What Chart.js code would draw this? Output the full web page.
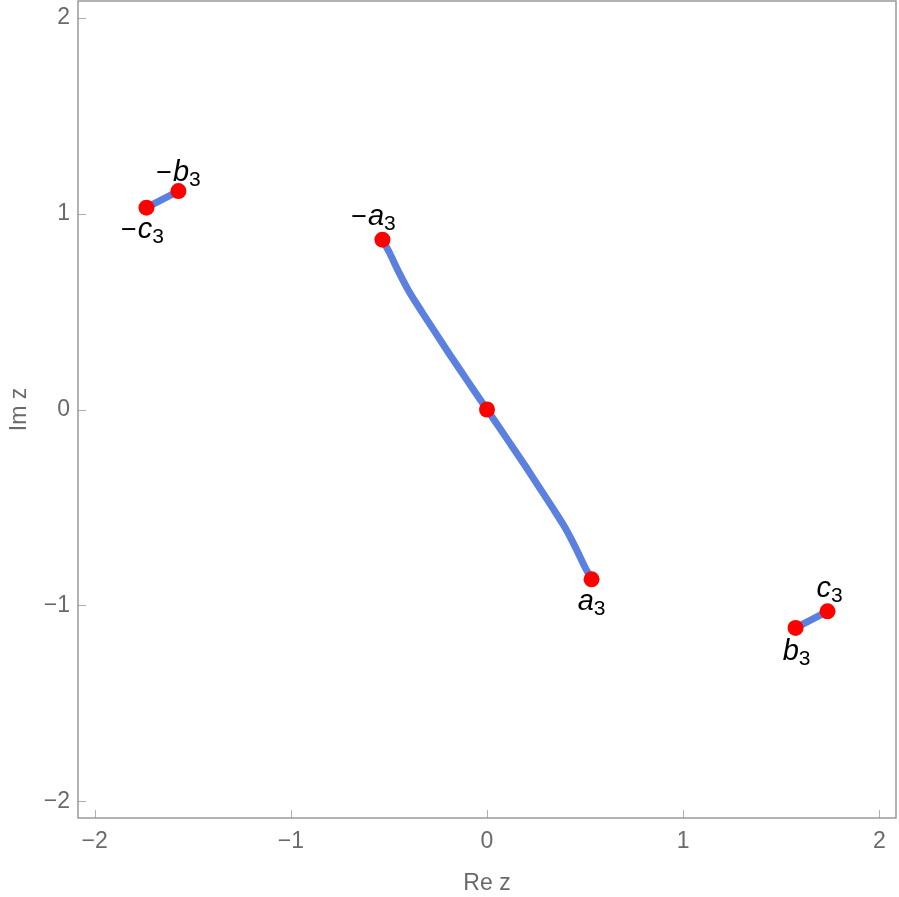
<!DOCTYPE html>
<html><head><meta charset="utf-8">
<script src="https://cdn.jsdelivr.net/npm/chart.js@4.4.1/dist/chart.umd.min.js"></script>
<style>html,body{margin:0;padding:0;background:#fff}canvas{display:block}</style>
</head><body><canvas id="c" width="899" height="897"></canvas>
<script>
// ---- data ----
const curveRe = [-0.533,-0.497,-0.449,-0.396,-0.333,-0.268,-0.203,-0.136,-0.068,0,0.068,0.136,0.203,0.268,0.333,0.396,0.449,0.497,0.533];
const curveIm = [0.867,0.8,0.7,0.6,0.5,0.4,0.3,0.2,0.1,0,-0.1,-0.2,-0.3,-0.4,-0.5,-0.6,-0.7,-0.8,-0.867];
const segLeftRe = [-1.736,-1.573];
const segLeftIm = [1.030,1.115];
const segRightRe = [1.573,1.736];
const segRightIm = [-1.115,-1.030];
const pointRe = [-0.533,0.533,-1.573,1.573,-1.736,1.736,0];
const pointIm = [0.867,-0.867,1.115,-1.115,1.030,-1.030,0];
const pointLabels = ['−a','a','−b','b','−c','c',''];
const labelSub = '3';
const tickValues = [-2,-1,0,1,2];
const tickLabels = ['−2','−1','0','1','2'];
const xTitle = 'Re z';
const yTitle = 'Im z';

// ---- styling ----
const BLUE = '#5b80e0';
const RED = '#ff0000';
const GRAY = '#6a6a6a';
const FRAME = '#8a8a8a';
const LABEL_PLACEMENT = [[-9,-15],[0,31],[0,-10],[1,32],[-4,30],[2,-14],null];

const toXY = (xs, ys) => xs.map((x,i)=>({x, y: ys[i]}));

const framePlugin = {
  id: 'frame',
  afterDraw(chart) {
    const {ctx, chartArea: a, scales} = chart;
    ctx.save();
    ctx.strokeStyle = '#b0b0b0';
    ctx.lineWidth = 1;
    tickValues.forEach(v => {
      const px = Math.round(scales.x.getPixelForValue(v)) + 0.5;
      ctx.beginPath(); ctx.moveTo(px, a.bottom); ctx.lineTo(px, a.bottom - 8); ctx.stroke();
      const py = Math.round(scales.y.getPixelForValue(v)) + 0.5;
      ctx.beginPath(); ctx.moveTo(a.left, py); ctx.lineTo(a.left + 8, py); ctx.stroke();
    });
    ctx.strokeStyle = FRAME;
    ctx.lineWidth = 1.3;
    ctx.strokeRect(a.left, a.top, a.right - a.left, a.bottom - a.top);
    ctx.restore();
  }
};

const labelPlugin = {
  id: 'labels',
  afterDatasetsDraw(chart) {
    const {ctx, scales} = chart;
    ctx.save();
    ctx.fillStyle = '#000';
    ctx.textBaseline = 'alphabetic';
    ctx.textAlign = 'left';
    const fMinus = '27px "Liberation Sans"';
    const fMain = 'italic 29px "Liberation Sans"';
    const fSub = '21px "Liberation Sans"';
    pointLabels.forEach((lab, i) => {
      const place = LABEL_PLACEMENT[i];
      if (!lab || !place) return;
      const px = scales.x.getPixelForValue(pointRe[i]);
      const py = scales.y.getPixelForValue(pointIm[i]);
      const neg = lab.startsWith('−');
      const letter = neg ? lab.slice(1) : lab;
      ctx.font = fMinus; const wM = neg ? ctx.measureText('−').width + 1 : 0;
      ctx.font = fMain; const wL = ctx.measureText(letter).width;
      ctx.font = fSub; const wS = ctx.measureText(labelSub).width;
      const total = wM + wL + wS;
      let x = px + place[0] - total/2;
      const base = py + place[1];
      if (neg) { ctx.font = fMinus; ctx.fillText('−', x, base); x += wM; }
      ctx.font = fMain; ctx.fillText(letter, x, base); x += wL;
      ctx.font = fSub; ctx.fillText(labelSub, x, base + 5);
    });
    ctx.restore();
  }
};

const tickFont = {family: '"Liberation Sans"', size: 23};
const axisCommon = {
  type: 'linear', min: -2.085, max: 2.085,
  afterBuildTicks: s => { s.ticks = tickValues.map(v => ({value: v})); },
  grid: {display: false, drawTicks: false},
  border: {display: false},
};

new Chart(document.getElementById('c'), {
  type: 'scatter',
  data: {
    datasets: [
      {data: toXY(pointRe, pointIm), backgroundColor: RED, borderColor: RED, pointRadius: 8, pointBorderWidth: 0, showLine: false, order: 0},
      {data: toXY(curveRe, curveIm), borderColor: BLUE, borderWidth: 7, pointRadius: 0, showLine: true, tension: 0.3, borderCapStyle: 'round', order: 1},
      {data: toXY(segLeftRe, segLeftIm), borderColor: BLUE, borderWidth: 7, pointRadius: 0, showLine: true, order: 1},
      {data: toXY(segRightRe, segRightIm), borderColor: BLUE, borderWidth: 7, pointRadius: 0, showLine: true, order: 1},
    ]
  },
  options: {
    responsive: false, animation: false, devicePixelRatio: 1,
    layout: {autoPadding: false, padding: {left: 0, right: 3, top: 1, bottom: 0}},
    plugins: {legend: {display: false}, tooltip: {enabled: false}},
    scales: {
      x: Object.assign({}, axisCommon, {
        position: 'bottom',
        ticks: {callback: v => tickLabels[tickValues.indexOf(v)], color: GRAY, font: tickFont, padding: 10, maxRotation: 0, autoSkip: false},
        title: {display: true, text: xTitle, color: GRAY, font: tickFont, padding: {top: 0, bottom: 0}},
        afterFit: s => { s.height = 79; s.paddingLeft = 0; s.paddingRight = 0; }
      }),
      y: Object.assign({}, axisCommon, {
        position: 'left',
        ticks: {callback: v => tickLabels[tickValues.indexOf(v)], color: GRAY, font: tickFont, padding: 8, autoSkip: false},
        title: {display: true, text: yTitle, color: GRAY, font: tickFont, padding: {top: 6, bottom: 0}},
        afterFit: s => { s.width = 78; s.paddingTop = 0; s.paddingBottom = 0; }
      })
    }
  },
  plugins: [framePlugin, labelPlugin]
});
</script>
</body></html>
